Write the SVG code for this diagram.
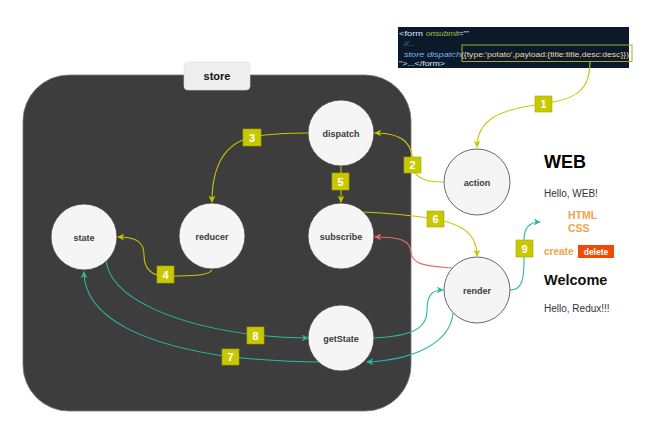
<svg xmlns="http://www.w3.org/2000/svg" width="651" height="437" viewBox="0 0 651 437">
<style>
.node circle{fill:#f5f5f5;stroke:#444;stroke-width:0.8}
.node text{font-family:"Liberation Sans",Arial,sans-serif;font-size:9px;font-weight:bold;fill:#3a3a3a;text-anchor:middle}
.edge{fill:none;stroke-width:1.1}
.y{stroke:#c8c800}
.g{stroke:#2bba98}
.r{stroke:#ea6b66}
.lbl rect{fill:#c8c800;stroke:#a8a800;stroke-width:0.6}
.lbl text{font-family:"Liberation Sans",Arial,sans-serif;font-size:11px;font-weight:bold;fill:#fff;text-anchor:middle}
.code{font-family:"Liberation Sans",Arial,sans-serif;font-size:8px}
.web{font-family:"Liberation Sans",Arial,sans-serif}
</style>
<defs>
<marker id="ay" viewBox="0 0 10 10" refX="9" refY="5" markerWidth="7" markerHeight="7" orient="auto" markerUnits="userSpaceOnUse"><path d="M0,0 L10,5 L0,10 L3,5 Z" fill="#c8c800"/></marker>
<marker id="ag" viewBox="0 0 10 10" refX="9" refY="5" markerWidth="7" markerHeight="7" orient="auto" markerUnits="userSpaceOnUse"><path d="M0,0 L10,5 L0,10 L3,5 Z" fill="#2bba98"/></marker>
<marker id="ar" viewBox="0 0 10 10" refX="9" refY="5" markerWidth="7" markerHeight="7" orient="auto" markerUnits="userSpaceOnUse"><path d="M0,0 L10,5 L0,10 L3,5 Z" fill="#ea6b66"/></marker>
</defs>
<rect width="651" height="437" fill="#fff"/>

<g id="store">
<rect x="23" y="75" width="388" height="336" rx="46" ry="46" fill="#3d3d3d" stroke="#777" stroke-width="0.8"/>
<rect x="184" y="62" width="66" height="28" rx="4" fill="#eeeeee" stroke="#ddd" stroke-width="0.6"/>
<text x="217" y="80" font-family="'Liberation Sans',Arial,sans-serif" font-size="11" font-weight="bold" fill="#111" text-anchor="middle">store</text>
</g>

<g id="code">
<rect x="398" y="27" width="231" height="41" fill="#0b1a2a"/>
<rect x="462" y="45" width="170" height="16.5" fill="none" stroke="#a8a830" stroke-width="1"/>
<text class="code" x="399" y="36"><tspan fill="#d8e6ff" textLength="24" lengthAdjust="spacingAndGlyphs">&lt;form</tspan><tspan fill="#a6c23a" font-style="italic" dx="3" textLength="33" lengthAdjust="spacingAndGlyphs">onsubmit</tspan><tspan fill="#d8e6ff" textLength="10" lengthAdjust="spacingAndGlyphs">=""</tspan></text>
<text class="code" x="404" y="46" fill="#6f8090" font-style="italic">//...</text>
<text class="code" x="404" y="57"><tspan fill="#7fb2e6" font-style="italic" textLength="57" lengthAdjust="spacingAndGlyphs">store dispatch</tspan><tspan fill="#f0d8a8" textLength="168" lengthAdjust="spacingAndGlyphs">({type:'potato',payload:{title:title,desc:desc}})</tspan></text>
<text class="code" x="399" y="66" fill="#d8e6ff" textLength="46" lengthAdjust="spacingAndGlyphs">"&gt;...&lt;/form&gt;</text>
</g>

<g id="connectors">
<path class="edge y" d="M590,62 C590,86 580,98 552,102 L535,105 C500,110 477,120 477,147" marker-end="url(#ay)"/>
<path class="edge y" d="M443,182 C425,182 413,178 413,165 C413,145 405,133 375,133" marker-end="url(#ay)"/>
<path class="edge y" d="M308,133 C282,133 262,135 252,137 C226,143 212,165 212,202" marker-end="url(#ay)"/>
<path class="edge y" d="M212,270 C208,276 190,276 166,276 C150,276 144,268 144,255 C144,242 136,237 118,237" marker-end="url(#ay)"/>
<path class="edge y" d="M341,166 L341,202" marker-end="url(#ay)"/>
<path class="edge y" d="M363,212 C390,213 410,215 435,219 C460,224 477,232 477,256" marker-end="url(#ay)"/>
<path class="edge r" d="M452,268 C430,266 412,266 411,252 C410,240 400,237 375,237" marker-end="url(#ar)"/>
<path class="edge g" d="M453,313 C450,345 410,360 367,362" marker-end="url(#ag)"/>
<path class="edge g" d="M320,362 C282,362 252,359 231,357 C150,346 84,320 84,272" marker-end="url(#ag)"/>
<path class="edge g" d="M106,260 C110,300 180,326 256,335 C275,337 290,338 308,338" marker-end="url(#ag)"/>
<path class="edge g" d="M374,338 C410,336 427,330 427,310 C427,295 432,290 443,290" marker-end="url(#ag)"/>
<path class="edge g" d="M510,290 C522,290 524,280 524,260 L524,240 C524,228 530,222 540,222" marker-end="url(#ag)"/>
</g>

<g id="node-dispatch" class="node"><circle cx="341" cy="133" r="33"/><text x="341" y="136.5">dispatch</text></g>
<g id="node-subscribe" class="node"><circle cx="341" cy="236" r="33"/><text x="341" y="239.5">subscribe</text></g>
<g id="node-reducer" class="node"><circle cx="212" cy="236" r="33"/><text x="212" y="239.5">reducer</text></g>
<g id="node-state" class="node"><circle cx="84" cy="237" r="33"/><text x="84" y="240.5">state</text></g>
<g id="node-getState" class="node"><circle cx="341" cy="338" r="33"/><text x="341" y="341.5">getState</text></g>
<g id="node-action" class="node"><circle cx="477" cy="182" r="33"/><text x="477" y="185.5">action</text></g>
<g id="node-render" class="node"><circle cx="477" cy="290" r="33"/><text x="477" y="293.5">render</text></g>

<g id="labels">
<g class="lbl"><rect x="535" y="96" width="17" height="16"/><text x="543.5" y="108">1</text></g>
<g class="lbl"><rect x="404" y="157" width="17" height="16"/><text x="412.5" y="169">2</text></g>
<g class="lbl"><rect x="243" y="129" width="18" height="17"/><text x="252" y="141.5">3</text></g>
<g class="lbl"><rect x="157" y="266" width="17" height="17"/><text x="165.5" y="278.5">4</text></g>
<g class="lbl"><rect x="332" y="173" width="17" height="17"/><text x="340.5" y="185.5">5</text></g>
<g class="lbl"><rect x="427" y="211" width="17" height="16"/><text x="435.5" y="223">6</text></g>
<g class="lbl"><rect x="222" y="349" width="17" height="16"/><text x="230.5" y="361">7</text></g>
<g class="lbl"><rect x="247" y="327" width="17" height="17"/><text x="255.5" y="339.5">8</text></g>
<g class="lbl"><rect x="516" y="240" width="17" height="17"/><text x="524.5" y="252.5">9</text></g>
</g>

<g id="web" class="web">
<text x="544" y="168" font-size="18" font-weight="bold" fill="#000">WEB</text>
<text x="544" y="197" font-size="10" fill="#333">Hello, WEB!</text>
<text x="568" y="219" font-size="10.5" font-weight="bold" fill="#f4a24a">HTML</text>
<text x="568" y="232" font-size="10.5" font-weight="bold" fill="#f4a24a">CSS</text>
<text x="544" y="255" font-size="10" font-weight="bold" fill="#f4a24a">create</text>
<rect x="578" y="245" width="36" height="13" fill="#f24a05"/>
<text x="596" y="254.5" font-size="8.5" font-weight="bold" fill="#fff" text-anchor="middle">delete</text>
<text x="544" y="285" font-size="14.5" font-weight="bold" fill="#111">Welcome</text>
<text x="544" y="312" font-size="10" fill="#333">Hello, Redux!!!</text>
</g>
</svg>
